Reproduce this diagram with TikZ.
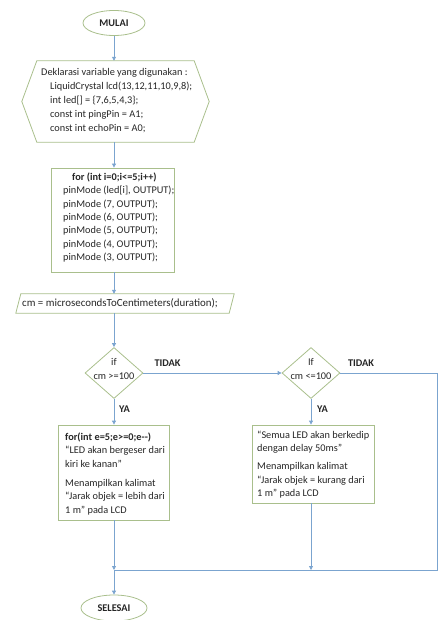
\documentclass[tikz,border=0pt]{standalone}
\usepackage{fontspec}
\setmainfont{Carlito}
\usetikzlibrary{arrows.meta,shapes.geometric,calc}
\definecolor{edgegreen}{HTML}{A9BF8C}
\definecolor{flowblue}{HTML}{7BA4CF}
\definecolor{txt}{HTML}{262626}
\begin{document}
\begin{tikzpicture}[x=1pt,y=-1pt,
  every node/.style={text=txt, font=\fontsize{10.3}{13.4}\selectfont},
  term/.style={ellipse, draw=edgegreen, line width=0.8pt, minimum width=62pt, minimum height=25pt, inner sep=0pt, font=\fontsize{10.3}{13.4}\selectfont\bfseries},
  frame/.style={rectangle, draw=edgegreen, line width=0.8pt, inner sep=0pt},
  ghost/.style={rectangle, inner sep=0pt},
  body/.style={anchor=north west, inner sep=0pt, align=left},
  shapeline/.style={draw=edgegreen, line width=0.8pt},
  decis/.style={diamond, draw=edgegreen, line width=0.8pt, minimum width=58pt, minimum height=51pt, inner sep=0pt},
  flow/.style={draw=flowblue, line width=0.8pt},
  arr/.style={flow, -{Triangle[width=4pt,length=4pt]}},
  lbl/.style={font=\fontsize{10.3}{13.4}\selectfont\bfseries},
]
\useasboundingbox (0,0) rectangle (439,620);

% start
\node[term] (mulai) at (114,23) {MULAI};

% declaration hexagon
\node[ghost, minimum width=157pt, minimum height=81pt] (hex) at (115.5,101.5) {};
\draw[shapeline] (hex.north west) -- (hex.north east) -- ($(hex.east)+(15,0)$) -- (hex.south east)
  -- (hex.south west) -- ($(hex.west)+(-15,0)$) -- cycle;
\node[body, font=\fontsize{10.3}{13.8}\selectfont] (hext) at (41,68.5)
{Deklarasi variable yang digunakan :\\
\hspace*{9pt}LiquidCrystal lcd(13,12,11,10,9,8);\\
\hspace*{9pt}int led[] = \{7,6,5,4,3\};\\
\hspace*{9pt}const int pingPin = A1;\\
\hspace*{9pt}const int echoPin = A0;};

% for box
\node[frame, minimum width=123pt, minimum height=104pt] (forb) at (112.5,220) {};
\node[body] (fort) at (63,172.5)
{\hspace*{9pt}\textbf{for (int i=0;i<=5;i++)}\\
pinMode (led[i], OUTPUT);\\
pinMode (7, OUTPUT);\\
pinMode (6, OUTPUT);\\
pinMode (5, OUTPUT);\\
pinMode (4, OUTPUT);\\
pinMode (3, OUTPUT);};

% parallelogram
\node[ghost, minimum width=213pt, minimum height=19pt] (calc) at (125,303.5) {};
\draw[shapeline] ($(calc.south west)+(-2.5,0)$) -- ($(calc.north west)+(2.5,0)$)
  -- ($(calc.north east)+(2.5,0)$) -- ($(calc.south east)+(-2.5,0)$) -- cycle;
\node[anchor=west, inner sep=0pt, font=\fontsize{10.9}{13.4}\selectfont] (calct) at (22,303.5) {cm = microsecondsToCentimeters(duration);};

% decisions
\node[decis] (d1) at (114,373) {};
\node (d1a) at (114,362) {if};
\node (d1b) at (114,376) {cm >=100};
\node[decis] (d2) at (311,373) {};
\node (d2a) at (311,362) {If};
\node (d2b) at (311,376) {cm <=100};

\node[lbl] (t1) at (167.5,363) {TIDAK};
\node[lbl] (t2) at (361,363) {TIDAK};
\node[lbl] (y1) at (124.5,409) {YA};
\node[lbl] (y2) at (322.5,409) {YA};

% action boxes
\node[frame, minimum width=111pt, minimum height=95pt] (b1) at (113.5,472.5) {};
\node[body] (b1t) at (65,432.5)
{\textbf{for(int e=5;e>=0;e-{}-)}\\
“LED akan bergeser dari\\
kiri ke kanan”\\[6pt]
Menampilkan kalimat\\
“Jarak objek = lebih dari\\
1 m” pada LCD};

\node[frame, minimum width=122pt, minimum height=78pt] (b2) at (313,464) {};
\node[body] (b2t) at (257,430.5)
{“Semua LED akan berkedip\\
dengan delay 50ms”\\[5pt]
Menampilkan kalimat\\
“Jarak objek = kurang dari\\
1 m” pada LCD};

% end
\node[term, minimum width=66pt, minimum height=26pt] (selesai) at (114,608) {SELESAI};

% helper points
\coordinate (rt) at (437,373);
\coordinate (rb) at (437,570);
\coordinate (j1) at (114,570);
\coordinate (j2) at (311,570);

% connectors
\draw[arr] (mulai.south) -- (mulai.south |- hex.north);
\draw[arr] (mulai.south |- hex.south) -- (mulai.south |- forb.north);
\draw[arr] (mulai.south |- forb.south) -- (mulai.south |- calc.north);
\draw[arr] (mulai.south |- calc.south) -- (d1.north);
\draw[arr] (d1.east) -- (d2.west);
\draw[flow] (d2.east) -- (rt) -- (rb) -- (j1);
\draw[arr] (d1.south) -- (d1.south |- b1.north);
\draw[arr] (d2.south) -- (d2.south |- b2.north);
\draw[arr] (d1.south |- b1.south) -- (j1);
\draw[arr] (d2.south |- b2.south) -- (j2);
\draw[arr] (j1) -- (selesai.north);
\end{tikzpicture}
\end{document}
